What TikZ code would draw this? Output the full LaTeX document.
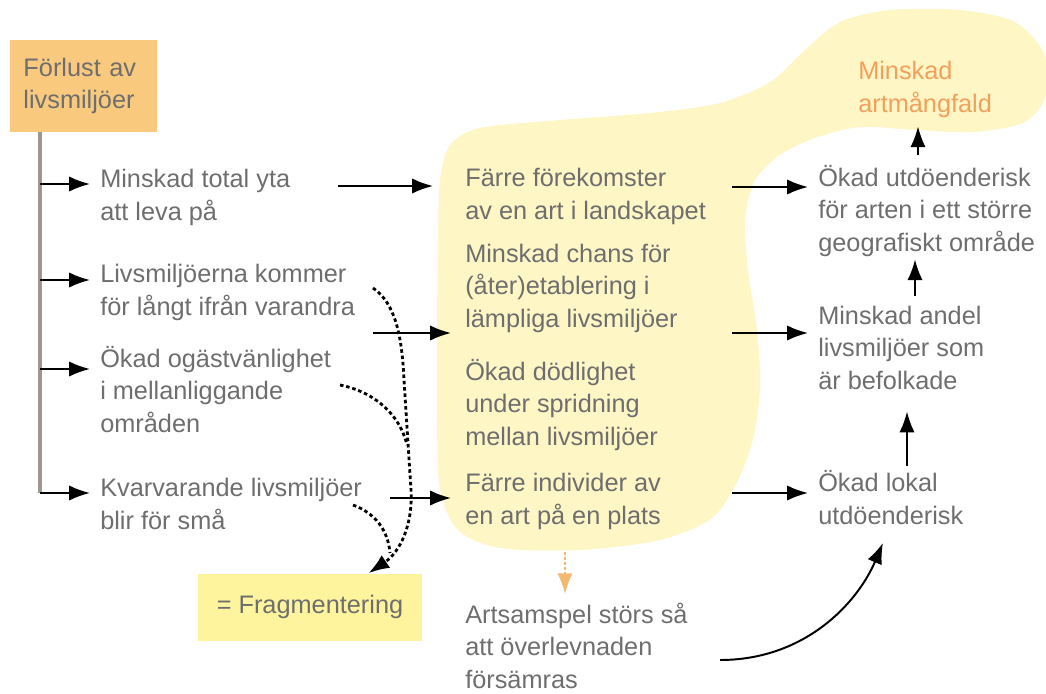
\documentclass[tikz,border=0pt]{standalone}
\usepackage{fontspec}
\setmainfont{Liberation Sans}
\usetikzlibrary{positioning, arrows.meta, calc}

\definecolor{txtgrey}{HTML}{6E6E6E}
\definecolor{trunkgrey}{HTML}{9C9890}
\definecolor{boxorange}{HTML}{F9C97E}
\definecolor{blobyellow}{HTML}{FFF6C6}
\definecolor{fragyellow}{HTML}{FFF49E}
\definecolor{textorange}{HTML}{F2A05C}
\definecolor{arrorange}{HTML}{F5B870}

\begin{document}
\begin{tikzpicture}[
    x=0.025cm, y=-0.025cm,
    font=\fontsize{18}{22.9}\selectfont,
    txt/.style={anchor=base west, inner sep=0pt, align=left, text=txtgrey},
    startbox/.style={fill=boxorange, minimum width=3.675cm, minimum height=2.3cm, text width=3cm, align=left, inner sep=0pt, text=txtgrey},
    fragbox/.style={fill=fragyellow, minimum width=5.6cm, minimum height=1.675cm, inner sep=0pt, text=txtgrey},
    arr/.style={-{Latex[length=5.2mm, width=3.8mm]}, line width=1.4pt},
    fragline/.style={dash pattern=on 2.5pt off 2pt, line width=2pt},
    trunk/.style={draw=trunkgrey, line width=2.2pt}
]
    \useasboundingbox (0,0) rectangle (1046,693);

    % Fragmented area
    \fill[blobyellow] plot[smooth cycle, tension=0.5] coordinates {
        (450,145) (480,128) (560,120) (650,113) (720,103) (770,82) (805,50)
        (840,22) (890,10) (960,10) (1015,22) (1045,55) (1046,95) (1025,122)
        (975,132) (915,130) (860,127) (815,138) (780,155) (755,180) (745,220)
        (748,270) (757,330) (760,385) (754,435) (738,480) (712,518) (660,540)
        (580,550) (500,548) (458,530) (440,490) (437,420) (437,330) (438,240)
        (440,180)};

    % Start box and causes (placed at the baseline of the last line)
    \node[startbox] (loss) at (83.5,86) {Förlust av\\livsmiljöer};
    \node[txt] (yta) at (100,220) {Minskad total yta\\att leva på};
    \node[txt] (avst) at (100,315) {Livsmiljöerna kommer\\för långt ifrån varandra};
    \node[txt] (ogast) at (100,432) {Ökad ogästvänlighet\\i mellanliggande\\områden};
    \node[txt] (sma) at (100,529) {Kvarvarande livsmiljöer\\blir för små};

    % Effects in the fragmented area
    \node[txt] (fore) at (465,219) {Färre förekomster\\av en art i landskapet};
    \node[txt] (chans) at (465,327) {Minskad chans för\\(åter)etablering i\\lämpliga livsmiljöer};
    \node[txt] (dod) at (465,445) {Ökad dödlighet\\under spridning\\mellan livsmiljöer};
    \node[txt] (indiv) at (465,524) {Färre individer av\\en art på en plats};
    \node[txt] (samspel) at (465,688) {Artsamspel störs så\\att överlevnaden\\försämras};

    % Consequences
    \node[txt, text=textorange] (artm) at (858,112) {Minskad\\artmångfald};
    \node[txt] (ukad) at (818,251) {Ökad utdöenderisk\\för arten i ett större\\geografiskt område};
    \node[txt] (andel) at (818,389) {Minskad andel\\livsmiljöer som\\är befolkade};
    \node[txt] (lokal) at (818,524) {Ökad lokal\\utdöenderisk};

    \node[fragbox] (frag) at (310,607) {= Fragmentering};

    % Trunk from the start box
    \coordinate (t1) at (40,184);
    \coordinate (t2) at (40,280);
    \coordinate (t3) at (40,369);
    \coordinate (t4) at (40,493);
    \draw[trunk] (40,0 |- loss.south) -- (t4);
    \draw[arr, shorten >=0.25cm] (t1) -- (t1 -| yta.west);
    \draw[arr, shorten >=0.25cm] (t2) -- (t2 -| avst.west);
    \draw[arr, shorten >=0.25cm] (t3) -- (t3 -| ogast.west);
    \draw[arr, shorten >=0.25cm] (t4) -- (t4 -| sma.west);

    % Into the middle column
    \coordinate (m1) at (338,186);
    \coordinate (m2) at (373,333);
    \coordinate (m3) at (390,498);
    \draw[arr, shorten >=0.8cm] (m1) -- (m1 -| fore.west);
    \draw[arr, shorten >=0.35cm] (m2) -- (m2 -| chans.west);
    \draw[arr, shorten >=0.35cm] (m3) -- (m3 -| indiv.west);

    % Into the right column
    \coordinate (r1) at (732,187);
    \coordinate (r2) at (732,333);
    \coordinate (r3) at (732,493);
    \draw[arr, shorten >=0.25cm] (r1) -- (r1 -| ukad.west);
    \draw[arr, shorten >=0.25cm] (r2) -- (r2 -| andel.west);
    \draw[arr, shorten >=0.25cm] (r3) -- (r3 -| lokal.west);

    \draw[arr, shorten <=0.24cm, shorten >=0.07cm] (andel.north -| 915,0) -- (ukad.south -| 915,0);
    \draw[arr, shorten <=0.12cm, shorten >=0.55cm] (lokal.north -| 907,0) -- (andel.south -| 907,0);
    \draw[arr, shorten <=0.25cm, shorten >=0.22cm] (ukad.north -| 918,0) -- (artm.south -| 918,0);

    \coordinate (o1) at (565,552);
    \draw[arrorange, dash pattern=on 2pt off 1.5pt, line width=1.4pt, -{Latex[length=5.2mm, width=3.8mm]}, shorten >=0.22cm] (o1) -- (o1 |- samspel.north);

    \coordinate (c1) at (720,660);
    \draw[arr, shorten >=0.5cm] (c1) to[out=0, in=-113] (lokal.south);

    % Dotted lines to the fragmentation box
    \coordinate (d1) at (373,288);
    \coordinate (d2) at (340,385);
    \coordinate (d3) at (353,505);
    \coordinate (j1) at (407,445);
    \coordinate (j2) at (390,553);
    \draw[fragline, -{Latex[length=5.2mm, width=3.8mm]}] (d1) .. controls (395,303) and (402,335) .. (404,380)
        -- (411,490) .. controls (413,525) and (400,552) .. (frag.30);
    \draw[fragline] (d2) .. controls (375,392) and (400,415) .. (j1);
    \draw[fragline] (d3) .. controls (375,513) and (388,530) .. (j2);

\end{tikzpicture}
\end{document}
